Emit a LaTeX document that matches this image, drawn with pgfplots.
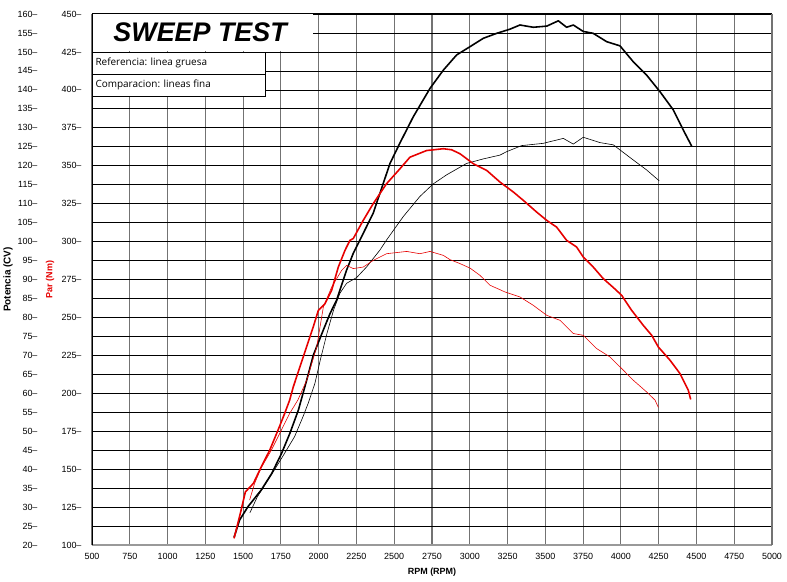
\documentclass[border=0pt]{standalone}
\usepackage{pgfplots}
\pgfplotsset{compat=1.18}
\usepackage{fontspec}
\setmainfont{Liberation Sans}
\newfontfamily\legfont{Open Sans}
\definecolor{cred}{RGB}{230,0,0}

\begin{document}
\begin{tikzpicture}
\useasboundingbox (-92bp,-37bp) rectangle (695bp,545bp);
\pgfplotsset{
  base/.style={
    scale only axis, width=680bp, height=531bp,
    at={(0,0)}, anchor=south west,
    xmin=500, xmax=5000,
    axis line style={draw=none},
    tick style={draw=none},
    /pgf/number format/1000 sep={},
    /pgf/number format/assume math mode=true,
    tick label style={font=\fontsize{9}{10}\selectfont},
    label style={font=\fontsize{9}{10}\selectfont\bfseries},
  }
}
\begin{axis}[base, ymin=20, ymax=160,
  xtick={500,750,...,5000},
  ytick={20,25,...,160},
  xmajorgrids, ymajorgrids,
  major x grid style={draw=black!55, line width=1.1pt},
  major y grid style={draw=black, line width=0.7pt},
  yticklabel={\pgfmathprintnumber{\tick}--},
  yticklabel style={xshift=-51bp},
  xticklabel style={yshift=-5bp},
  xlabel={RPM (RPM)},
  xlabel style={at={(axis description cs:0.5,0)}, anchor=center, yshift=-27bp},
  ylabel={Potencia (CV)},
  ylabel style={at={(axis description cs:-0.1235,0.5)}, anchor=center, font=\fontsize{10}{11}\selectfont\bfseries},
]
% thick black: power, reference
\addplot[black, line width=1.6pt, line join=round] coordinates {
(1440,22) (1477,26.6) (1532,30.1) (1620,34.5) (1690,38.9) (1755,44.2) (1810,49.5)
(1866,55.6) (1921,63.5) (1965,70.1) (2031,76.7) (2075,81) (2119,84.6) (2163,89.9)
(2185,92.5) (2229,96.9) (2273,100.4) (2361,107.5) (2472,120.6) (2538,126) (2626,132.9)
(2737,140.4) (2825,145.2) (2913,149.2) (3002,151.4) (3090,153.6) (3178,154.9)
(3266,156.0) (3332,157.1) (3420,156.5) (3509,156.8) (3586,158.2) (3641,156.5)
(3685,157.1) (3751,155.4) (3817,154.9) (3906,152.7) (3994,151.6) (4082,147.4)
(4170,143.9) (4259,139.5) (4347,134.7) (4413,129.4) (4468,125.2)
};
% thin black: power, comparison
\addplot[black, line width=0.6pt, line join=round] coordinates {
(1545,28.5) (1594,32.7) (1687,38.5) (1775,44.2) (1841,48.6) (1896,53.8) (1931,57.4)
(1975,62.6) (2011,68.8) (2055,75.8) (2099,82) (2141,86.4) (2185,89.0) (2251,90.5)
(2317,93.3) (2406,97.8) (2449,100.4) (2560,106.6) (2670,111.9) (2758,115.2)
(2847,117.6) (2979,120.6) (3090,121.8) (3200,122.8) (3244,123.7) (3343,125.3)
(3486,125.9) (3619,127.2) (3685,125.7) (3751,127.5) (3861,126.1) (3950,125.5)
(4082,121.5) (4170,118.9) (4254,116.0)
};
\end{axis}
\begin{axis}[base, ymin=100, ymax=450, hide x axis, clip=false,
  ytick={100,125,...,450},
  yticklabel={\pgfmathprintnumber{\tick}--},
  yticklabel style={xshift=-7bp},
  ylabel={Par (Nm)},
  ylabel style={at={(axis description cs:-0.0618,0.5)}, anchor=center, text=cred},
]
% thick red: torque, reference
\addplot[cred, line width=1.6pt, line join=round] coordinates {
(1440,104.4) (1482,121) (1515,135) (1568,140.6) (1620,151.5) (1676,162.5) (1731,175.7)
(1775,186.7) (1808,195.5) (1832,204.2) (1898,224) (1964,243.7) (1998,254.7)
(2042,259.1) (2086,267.9) (2130,283.2) (2174,294.2) (2207,300.8) (2229,302)
(2295,314) (2361,325) (2449,338.1) (2538,348) (2604,355.6) (2714,360) (2825,361.2)
(2880,360.5) (2935,357.9) (3024,351.3) (3112,346.9) (3200,339.2) (3289,332.6)
(3355,327.1) (3443,319.4) (3509,314) (3575,309.5) (3641,300.8) (3707,296.4)
(3751,289.8) (3817,283.2) (3883,275.6) (3950,269.7) (4005,264.6) (4071,254.7)
(4148,244.8) (4204,238.2) (4248,230.5) (4325,221.8) (4391,213) (4446,202) (4462,195.9)
};
% thin red: torque, comparison
\addplot[cred, line width=0.6pt, line join=round] coordinates {
(1543,129.6) (1576,140.6) (1620,151) (1687,162.5) (1742,173.5) (1808,186.7)
(1862,195.5) (1921,208.6) (1987,230.5) (2031,256.9) (2086,270) (2152,281)
(2185,284.3) (2229,282.2) (2295,283.2) (2361,287.6) (2449,292) (2582,293.5)
(2670,292) (2737,293.5) (2825,290.9) (2869,288.1) (2935,285.5) (3002,282.5)
(3068,277.7) (3134,271.2) (3233,266.8) (3332,263.5) (3420,258) (3509,251.4)
(3597,248.1) (3685,239.4) (3751,238.2) (3839,229.5) (3927,224) (4005,216.3)
(4082,208.6) (4170,200.9) (4226,195.5) (4248,190.7)
};
% title and legend boxes
\fill[white] (rel axis cs:0,0.9304) rectangle (rel axis cs:0.3249,1);
\node[font=\fontsize{27}{30}\selectfont\bfseries\itshape] at (rel axis cs:0.1590,0.966) {SWEEP TEST};
\draw[black, fill=white, line width=0.8pt] (rel axis cs:0,0.8457) rectangle (rel axis cs:0.2544,0.92857);
\draw[black, line width=0.8pt] (rel axis cs:0,0.8864) -- (rel axis cs:0.2544,0.8864);
\node[anchor=west, font=\legfont\fontsize{10}{12}\selectfont] at (rel axis cs:0,0.9075) {Referencia: linea gruesa};
\node[anchor=west, font=\legfont\fontsize{10}{12}\selectfont] at (rel axis cs:0,0.866) {Comparacion: lineas fina};
% frame
\draw[black!40, line width=1.5pt] (rel axis cs:0,0) -- (rel axis cs:1,0);
\draw[black!55, line width=1.1pt] (rel axis cs:1,0) -- (rel axis cs:1,1);
\draw[black, line width=1pt] (rel axis cs:0,1) -- (rel axis cs:1,1);
\draw[black, line width=1pt] (rel axis cs:0,0) -- (rel axis cs:0,1);
\end{axis}
\end{tikzpicture}
\end{document}
